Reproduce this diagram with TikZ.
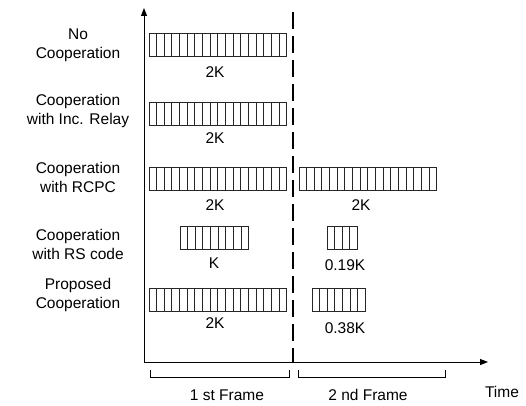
\documentclass[tikz,border=0pt]{standalone}
\usepackage{fontspec}
\setmainfont{Liberation Sans}
\usetikzlibrary{arrows, arrows.meta}
\usetikzlibrary{positioning}

\tikzset{
  axisline/.style={line width=1pt, -{Triangle[length=8pt,width=6pt]}},
  framedash/.style={line width=2.2pt, dash pattern=on 17pt off 7pt},
  cellbox/.style={line width=1pt, draw=black!85},
  rowlabel/.style={align=center, font=\fontsize{15.5}{19}\selectfont, inner sep=0pt},
  sizelabel/.style={font=\fontsize{15.5}{18.5}\selectfont, inner sep=0pt},
}
% bar of #3 cells, lower left corner at (#1,#2)
\newcommand{\cellbar}[3]{%
  \draw[cellbox] (#1,#2) rectangle ++(#3*7.65,23);
  \foreach \c in {1,...,#3} \draw[cellbox] (#1+\c*7.65-7.65,#2) -- ++(0,23);
}

\begin{document}
\begin{tikzpicture}[x=1pt,y=1pt]
\useasboundingbox (0,0) rectangle (526,405);

% axes
\coordinate (O) at (144,43);
\coordinate (ytip) at (144,397);
\coordinate (xtip) at (488,43);
\draw[axisline] (O) -- (ytip);
\draw[axisline] (O) -- (xtip);
\coordinate (dtop) at (293,393);
\coordinate (dbot) at (293,43);
\draw[framedash] (dtop) -- (dbot);

% row labels
\node[rowlabel] (r1) at (78,359.5) {No\\Cooperation};
\node[rowlabel] (r2) at (78,294) {Cooperation\\with Inc. Relay};
\node[rowlabel] (r3) at (78,228) {Cooperation\\with RCPC};
\node[rowlabel] (r4) at (78,160.5) {Cooperation\\with RS code};
\node[rowlabel] (r5) at (78,110) {Proposed\\Cooperation};

% bars
\cellbar{149}{348}{18}
\node[sizelabel] (s1) at (215,333) {2K};
\cellbar{149}{280}{18}
\node[sizelabel] (s2) at (215,267) {2K};
\cellbar{149}{215}{18}
\node[sizelabel] (s3a) at (215,200) {2K};
\cellbar{299}{215}{18}
\node[sizelabel] (s3b) at (361,200) {2K};
\cellbar{180}{156}{9}
\node[sizelabel] (s4a) at (214,142) {K};
\cellbar{327}{156}{4}
\node[sizelabel] (s4b) at (345,140) {0.19K};
\cellbar{149}{94}{18}
\node[sizelabel] (s5a) at (215,82) {2K};
\cellbar{312}{94}{7}
\node[sizelabel] (s5b) at (345,77) {0.38K};

% frame brackets
\coordinate (b1l) at (150,28);
\coordinate (b1r) at (289,28);
\coordinate (b2l) at (298,28);
\coordinate (b2r) at (445,28);
\draw[line width=1pt] (b1l) ++(0,7) -- (b1l) -- (b1r) -- ++(0,7);
\draw[line width=1pt] (b2l) ++(0,7) -- (b2l) -- (b2r) -- ++(0,7);
\node[sizelabel] (f1) at (227,10) {1 st Frame};
\node[sizelabel] (f2) at (368,10) {2 nd Frame};
\node[sizelabel] (time) at (502,13) {Time};

\end{tikzpicture}
\end{document}
